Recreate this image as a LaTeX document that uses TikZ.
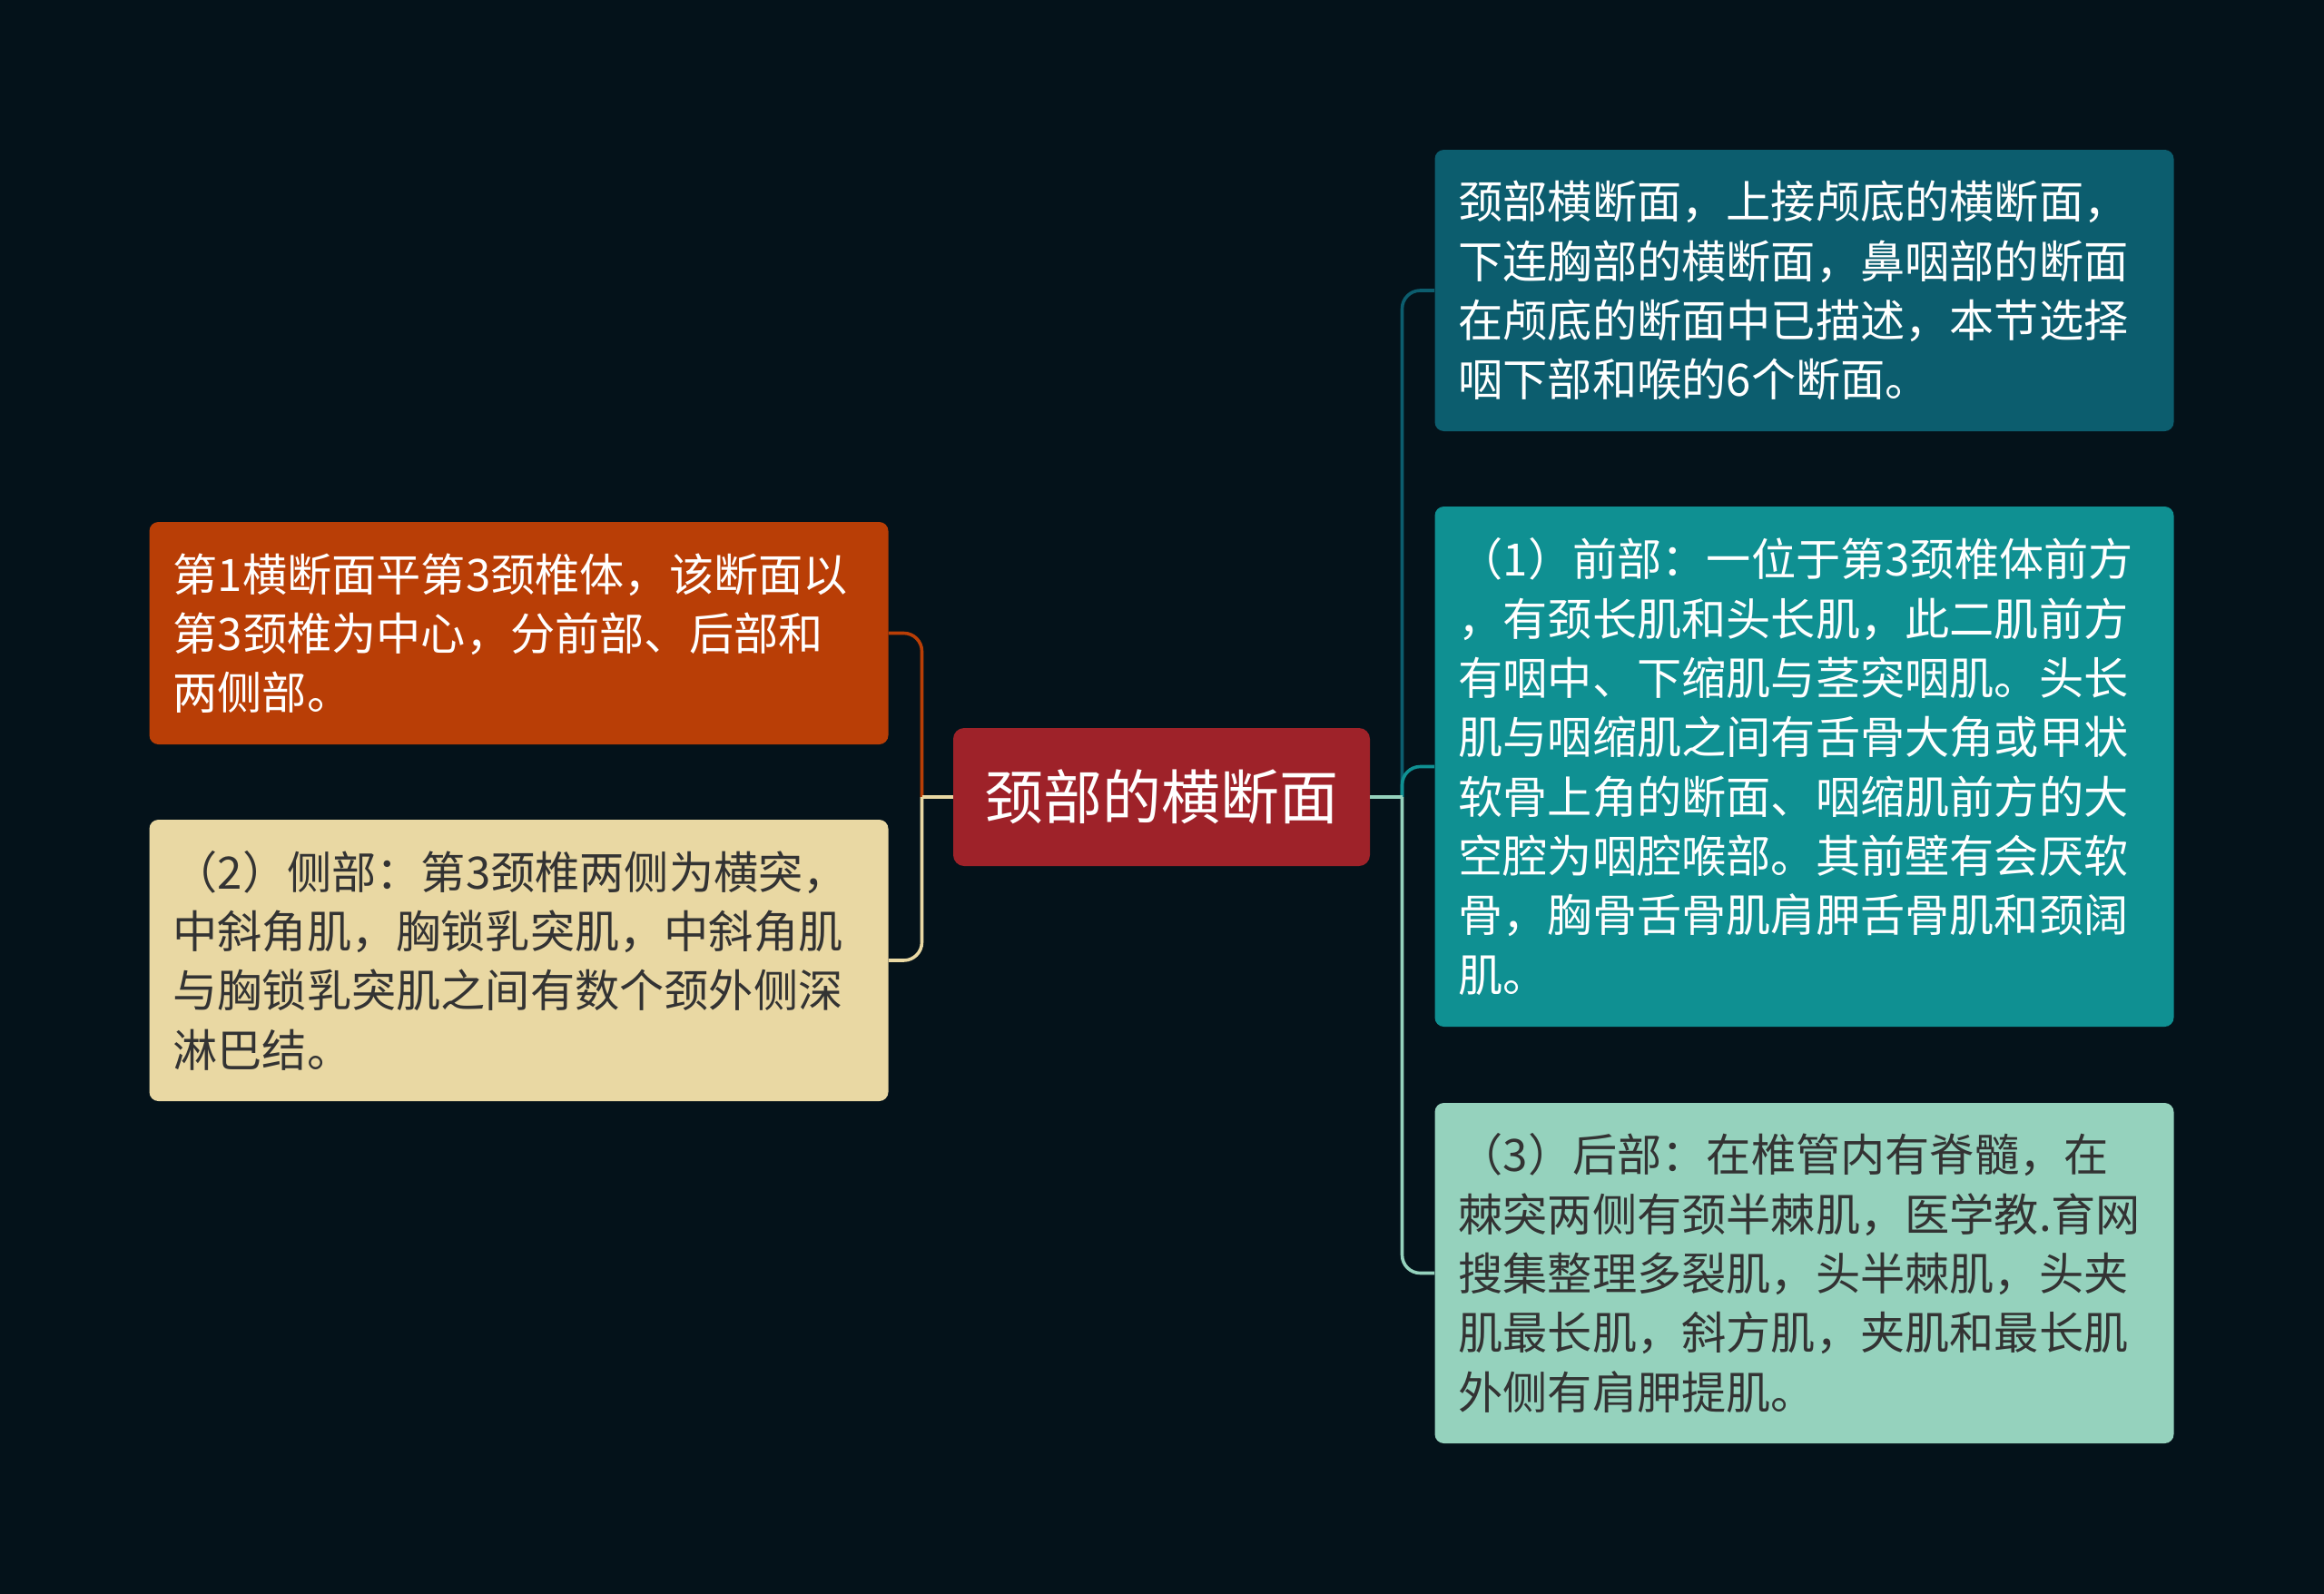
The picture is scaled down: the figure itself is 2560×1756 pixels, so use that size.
\documentclass[tikz,border=0pt]{standalone}
\usepackage{fontspec}
\setmainfont{Noto Sans CJK SC}
\definecolor{bg}{HTML}{04121A}
\definecolor{cmain}{HTML}{9E2229}
\definecolor{corange}{HTML}{B93E06}
\definecolor{cbeige}{HTML}{E9D8A3}
\definecolor{ctop}{HTML}{0C5D6E}
\definecolor{cmid}{HTML}{0F9092}
\definecolor{cbot}{HTML}{95D2BD}
\definecolor{dtext}{HTML}{333333}
\tikzset{
  box/.style={rounded corners=5pt, inner xsep=13pt, inner ysep=0pt, text width=381pt, align=left,
    minimum width=407pt, font=\fontsize{24.6pt}{32.65pt}\selectfont},
  mainbox/.style={rounded corners=6pt, minimum width=229.5pt, minimum height=76pt, inner sep=0pt,
    fill=cmain, text=white, font=\fontsize{32.5pt}{36pt}\selectfont},
  conn/.style={line width=1.8pt},
  elbow/.style={conn, rounded corners=10pt},
}
\begin{document}
\begin{tikzpicture}[x=0.5pt,y=-0.5pt]
\fill[bg] (0,0) rectangle (2560,1756);
\useasboundingbox (0,0) rectangle (2560,1756);

\node[mainbox] (c) at (1279.5,878) {颈部的横断面};

\node[box, fill=corange, text=white, minimum height=122.5pt] (l1) at (571.5,697.5)
 {第1横断面平第3颈椎体，该断面以\\第3颈椎为中心，分前部、后部和\\两侧部。};
\node[box, fill=cbeige, text=dtext, minimum height=155pt] (l2) at (571.5,1058)
 {（2）侧部：第3颈椎两侧为横突，\\中斜角肌，胸锁乳突肌，中斜角肌\\与胸锁乳突肌之间有数个颈外侧深\\淋巴结。};

\node[box, fill=ctop, text=white, minimum height=155pt] (r1) at (1987.5,320)
 {颈部横断面，上接颅底的横断面，\\下连胸部的横断面，鼻咽部的断面\\在颅底的断面中已描述，本节选择\\咽下部和喉的6个断面。};
\node[box, fill=cmid, text=white, minimum height=286.5pt] (r2) at (1987.5,844.5)
 {（1）前部：一位于第3颈椎体前方\\，有颈长肌和头长肌，此二肌前方\\有咽中、下缩肌与茎突咽肌。头长\\肌与咽缩肌之间有舌骨大角或甲状\\软骨上角的断面、咽缩肌前方的大\\空腔为咽腔喉部。其前壁有会厌软\\骨，胸骨舌骨肌肩胛舌骨肌和颈阔\\肌。};
\node[box, fill=cbot, text=dtext, minimum height=187.5pt] (r3) at (1987.5,1402.5)
 {（3）后部：在椎管内有脊髓，在\\棘突两侧有颈半棘肌，医学教.育网\\搜集整理多裂肌，头半棘肌，头夹\\肌最长肌，斜方肌，夹肌和最长肌\\外侧有肩胛提肌。};

\coordinate (jl) at (1015.5,878);
\coordinate (jr) at (1544.5,878);

% left connectors
\draw[elbow, corange] (jl) -- (jl |- l1.east) -- (l1.east);
\draw[elbow, cbeige] (jl) -- (jl |- l2.east) -- (l2.east);
\draw[conn, cbeige] (c.west) -- (jl);

% right connectors
\draw[elbow, ctop] (jr) -- (jr |- r1.west) -- (r1.west);
\draw[elbow, cmid] (jr) -- (jr |- r2.west) -- (r2.west);
\draw[elbow, cbot] (jr) -- (jr |- r3.west) -- (r3.west);
\draw[conn, cbot] (c.east) -- (jr);
\end{tikzpicture}
\end{document}
